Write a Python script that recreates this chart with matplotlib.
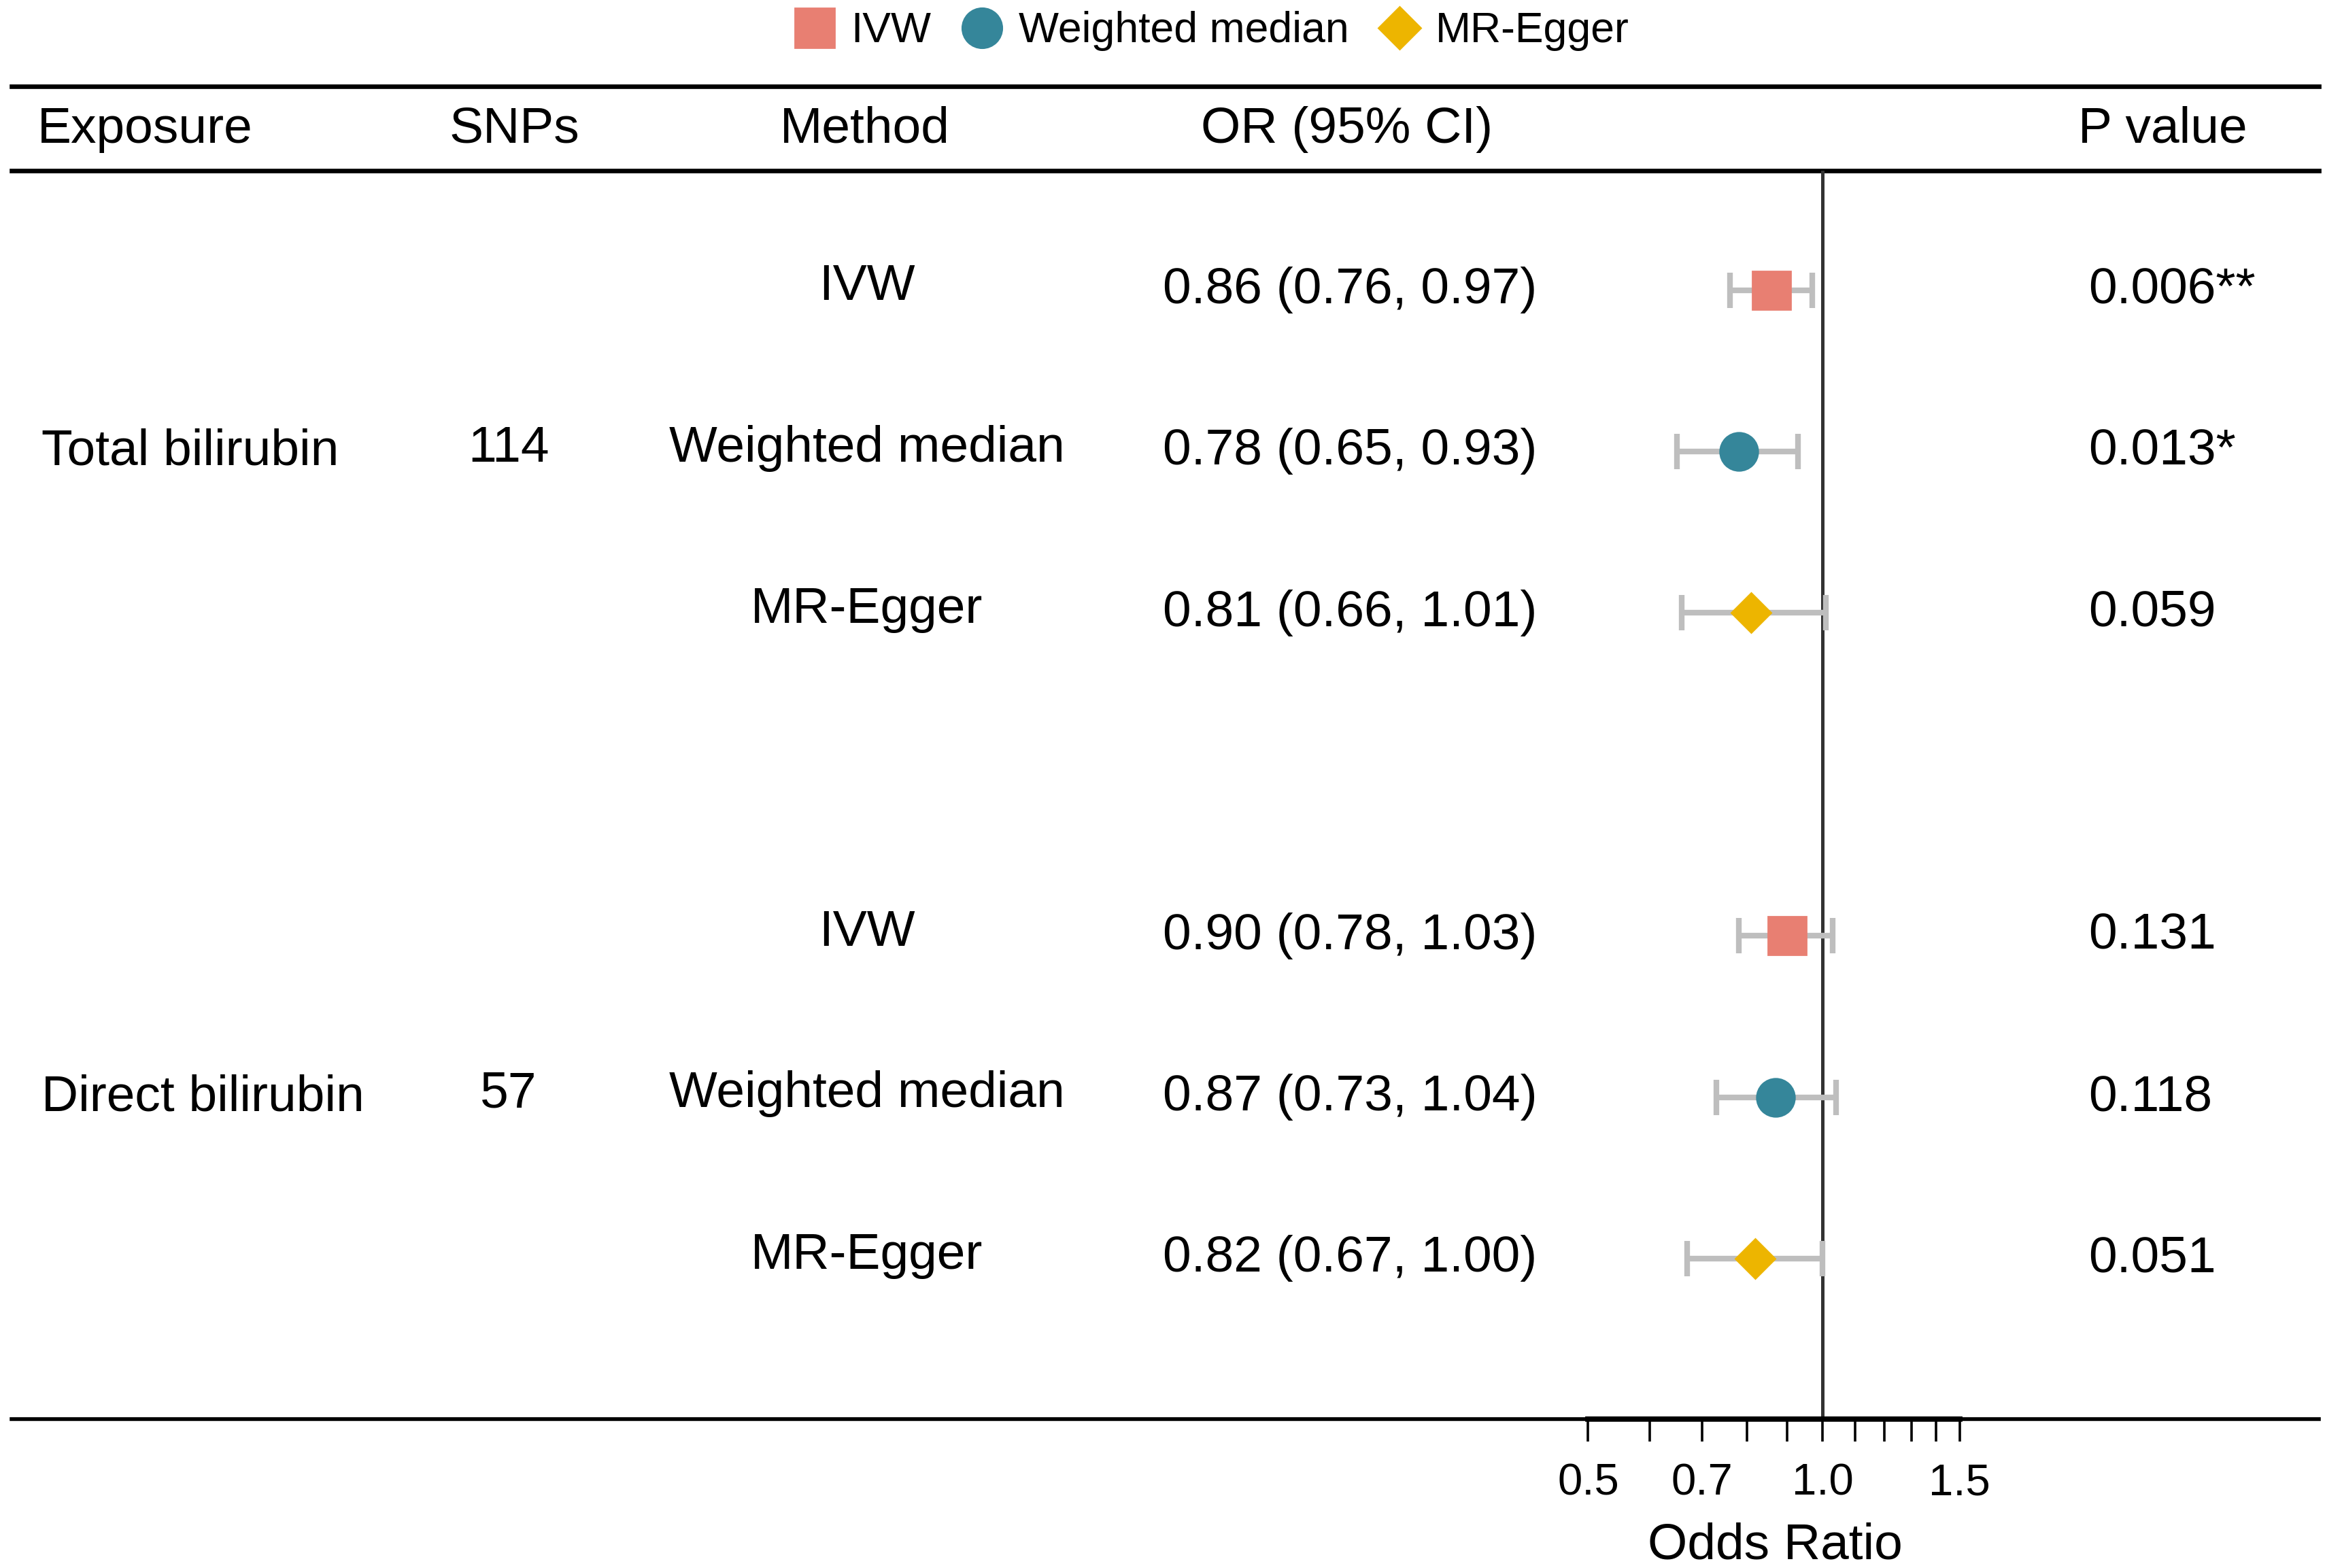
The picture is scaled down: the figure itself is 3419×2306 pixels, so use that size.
import numpy as np
import matplotlib
matplotlib.use("Agg")
import matplotlib.pyplot as plt
import matplotlib.transforms as mtransforms
from matplotlib.lines import Line2D
from matplotlib.ticker import FixedLocator, NullFormatter

plt.rcParams['font.family'] = ['Liberation Sans', 'DejaVu Sans']

# data
exposures = ["Total bilirubin", "Direct bilirubin"]
snps = ["114", "57"]
methods = ["IVW", "Weighted median", "MR-Egger"]
or_est = [0.86, 0.78, 0.81, 0.90, 0.87, 0.82]
ci_lo = [0.76, 0.65, 0.66, 0.78, 0.73, 0.67]
ci_hi = [0.97, 0.93, 1.01, 1.03, 1.04, 1.00]
pvals = ["0.006**", "0.013*", "0.059", "0.131", "0.118", "0.051"]
xticks_major = [0.5, 0.7, 1.0, 1.5]
xticks_minor = [0.6, 0.8, 0.9, 1.1, 1.2, 1.3, 1.4]

colors = ["#E87F72", "#35869A", "#EDB500"]
markers = ["s", "o", "D"]
msizes = [20, 20, 15]

# row positions: 3 methods per exposure, one blank row gap
rows = [0, 1, 2, 4, 5, 6]

W, H = 1564.0, 1055.0   # layout measured on a 1564 px wide copy
def fx(p):
    return p / W
def fy(p):
    return 1 - p / H

FS = 27

fig = plt.figure(figsize=(17.095, 11.53), dpi=200)

# forest axes
ax_l, ax_r, ax_t, ax_b = 1000, 1380, 115, 955
ax = fig.add_axes([fx(ax_l), fy(ax_b), fx(ax_r) - fx(ax_l), fy(ax_t) - fy(ax_b)])
scale, x_one = 227.5, 1226.0
ax.set_xscale('log')
ax.set_xlim(np.exp((ax_l - x_one) / scale), np.exp((ax_r - x_one) / scale))
row_h = 108.4
ax.set_ylim(rows[-1] + (ax_b - 847) / row_h, rows[0] - (195 - ax_t) / row_h)
ax.patch.set_alpha(0)

for i, r in enumerate(rows):
    m = i % 3
    ax.errorbar(or_est[i], r, xerr=[[or_est[i] - ci_lo[i]], [ci_hi[i] - or_est[i]]],
                fmt='none', ecolor='#BEBEBE', elinewidth=3.0, capsize=9.5, capthick=3.0,
                zorder=2)
    ax.plot(or_est[i], r, marker=markers[m], color=colors[m], markersize=msizes[m],
            linestyle='none', zorder=3)

ax.axvline(1.0, color='#333333', lw=1.8, zorder=1)

for s in ['top', 'left', 'right']:
    ax.spines[s].set_visible(False)
ax.spines['bottom'].set_bounds(0.5, 1.5)
ax.spines['bottom'].set_linewidth(2.8)
ax.set_yticks([])
ax.xaxis.set_major_locator(FixedLocator(xticks_major))
ax.set_xticklabels([f"{v:.1f}" for v in xticks_major])
ax.xaxis.set_minor_locator(FixedLocator(xticks_minor))
ax.xaxis.set_minor_formatter(NullFormatter())
ax.tick_params(axis='x', which='both', length=12, width=1.3, direction='out',
               labelsize=23.5, pad=11, color='black')

fig.text(fx(1194), fy(1040), "Odds Ratio", fontsize=FS, ha='center', va='center')

# table lines
for yl, lw in [(58, 2.4), (115, 2.4), (955, 2.0)]:
    fig.add_artist(Line2D([fx(8), fx(1560)], [fy(yl), fy(yl)], color='black', lw=lw,
                          transform=fig.transFigure, zorder=0))

# header
hy = fy(87)
fig.text(fx(25), hy, "Exposure", fontsize=FS, ha='left', va='center')
fig.text(fx(346), hy, "SNPs", fontsize=FS, ha='center', va='center')
fig.text(fx(582), hy, "Method", fontsize=FS, ha='center', va='center')
fig.text(fx(906), hy, "OR (95% CI)", fontsize=FS, ha='center', va='center')
fig.text(fx(1455), hy, "P value", fontsize=FS, ha='center', va='center')

# table body
tr = mtransforms.blended_transform_factory(fig.transFigure, ax.transData)
for g in range(2):
    mid = rows[g * 3 + 1]
    fig.text(fx(28), mid, exposures[g], fontsize=FS, ha='left', va='center', transform=tr)
    fig.text(fx(342), mid - 0.02, snps[g], fontsize=FS, ha='center', va='center',
             transform=tr)
for i, r in enumerate(rows):
    fig.text(fx(583), r - 0.02, methods[i % 3], fontsize=FS, ha='center', va='center',
             transform=tr)
    fig.text(fx(908), r, f"{or_est[i]:.2f} ({ci_lo[i]:.2f}, {ci_hi[i]:.2f})", fontsize=FS,
             ha='center', va='center', transform=tr)
    fig.text(fx(1405), r, pvals[i], fontsize=FS, ha='left', va='center', transform=tr)

# legend
handles = [Line2D([], [], marker=markers[k], color=colors[k], markersize=msizes[k] + 1,
                  linestyle='none', label=methods[k]) for k in range(3)]
fig.legend(handles=handles, loc='center', bbox_to_anchor=(fx(815), fy(21)), ncol=3,
           frameon=False, fontsize=22.5, handletextpad=0.35, columnspacing=0.7,
           handlelength=1.0)

fig.savefig("out.png", dpi=200)
